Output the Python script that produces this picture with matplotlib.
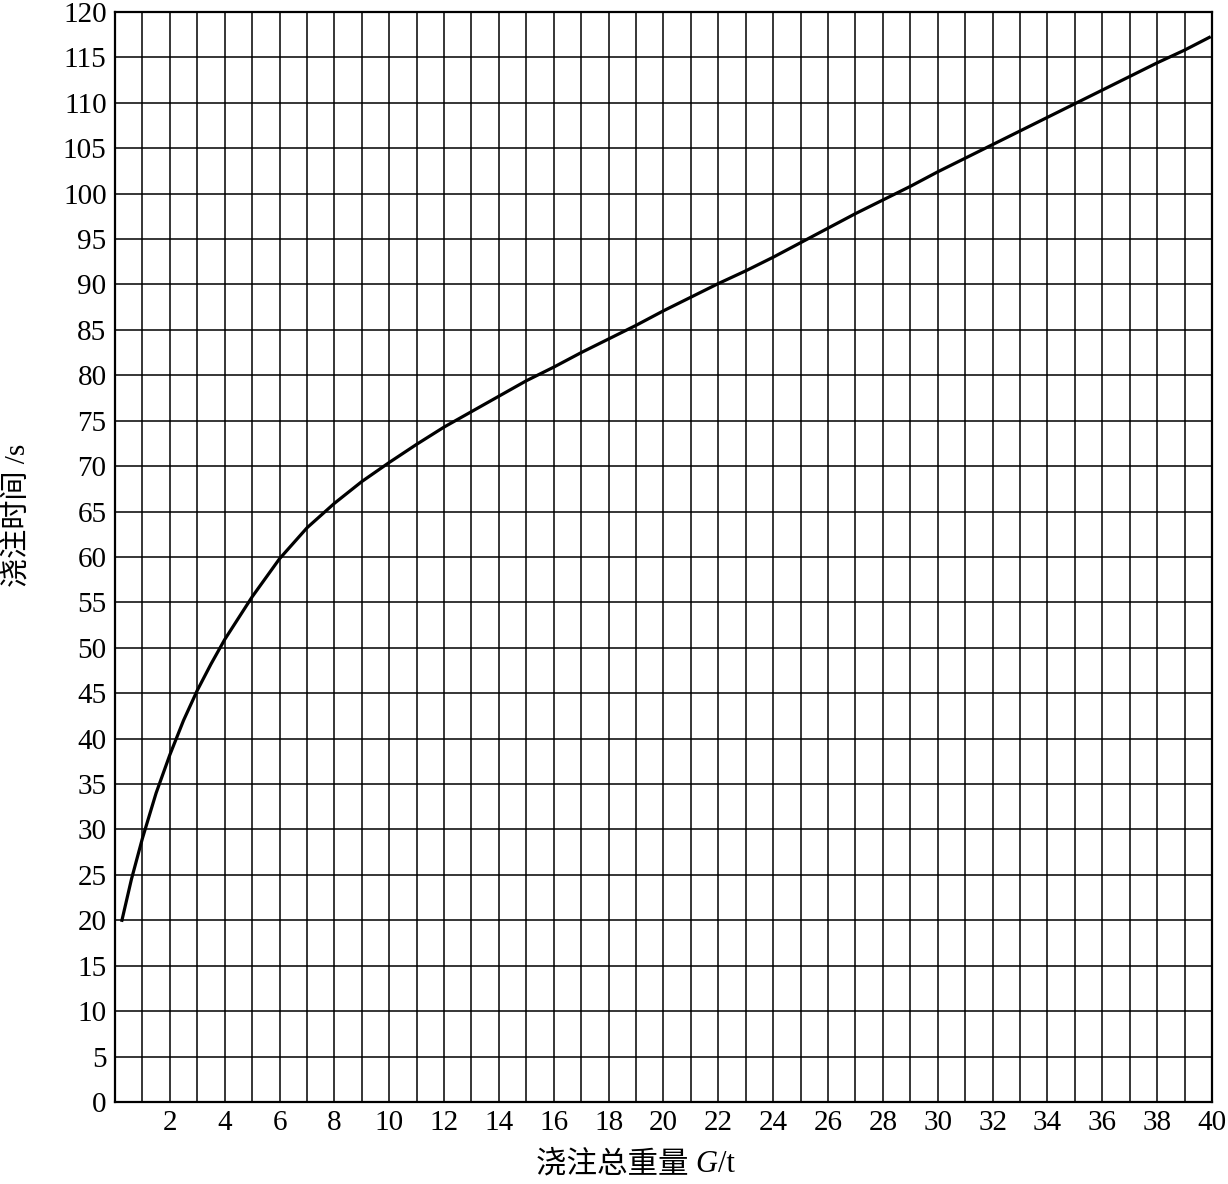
import matplotlib.pyplot as plt
from matplotlib.offsetbox import TextArea, HPacker, AnnotationBbox

# values
weight = [0.255, 0.6, 1, 1.5, 2, 2.5, 3, 3.5, 4, 5, 6, 7, 8, 9, 10, 11, 12, 13, 14, 15,
          16, 17, 18, 19, 20, 21, 22, 23, 24, 25, 26, 27, 28, 29, 30, 31, 32, 33, 34, 35,
          36, 37, 38, 39, 39.9]
pour_time = [20, 24.5, 29, 34, 38.2, 42, 45.3, 48.2, 50.9, 55.6, 59.8, 63.2, 65.9, 68.3, 70.4,
             72.4, 74.3, 76, 77.7, 79.4, 80.9, 82.5, 84, 85.5, 87.1, 88.6, 90.1, 91.5, 93,
             94.6, 96.2, 97.8, 99.3, 100.8, 102.4, 103.9, 105.4, 106.9, 108.4, 109.9, 111.4,
             112.9, 114.4, 115.8, 117.2]

x_grid = list(range(0, 41))
x_labels = ['' if v % 2 or v == 0 else str(v) for v in x_grid]
y_ticks = list(range(0, 121, 5))

fonts = ['Liberation Serif', 'Noto Sans CJK SC']
plt.rcParams['font.family'] = fonts

fig = plt.figure(figsize=(12.28, 11.84), dpi=100)
ax = fig.add_axes([0.0936, 0.0693, 0.8934, 0.9206])

ax.plot(weight, pour_time, color='black', lw=2.3, solid_joinstyle='round', zorder=3)

ax.set_xlim(0, 40)
ax.set_ylim(0, 120)
ax.set_xticks(x_grid)
ax.set_xticklabels(x_labels)
ax.set_yticks(y_ticks)
ax.set_yticklabels([str(v) for v in y_ticks])
ax.tick_params(length=0, labelsize=21, colors='black')
ax.tick_params(axis='x', pad=6)
ax.tick_params(axis='y', pad=6)
ax.grid(True, color='black', lw=1.1)
ax.set_axisbelow(True)
for s in ax.spines.values():
    s.set_linewidth(1.6)

# y label
ax.set_ylabel('浇注时间 /s', fontsize=21, va='center')
ax.yaxis.set_label_coords(-0.088, 0.538)

# x label: chinese + italic G + /t
parts = [TextArea('浇注总重量 ', textprops=dict(fontsize=22, family=fonts)),
         TextArea('G', textprops=dict(fontsize=22, family='Liberation Serif', style='italic')),
         TextArea('/t', textprops=dict(fontsize=22, family='Liberation Serif'))]
box = HPacker(children=parts, align='baseline', pad=0, sep=0)
ab = AnnotationBbox(box, (635, 19), xycoords='figure pixels', frameon=False,
                    box_alignment=(0.5, 0.5))
fig.add_artist(ab)

fig.savefig('out.png', dpi=100)
